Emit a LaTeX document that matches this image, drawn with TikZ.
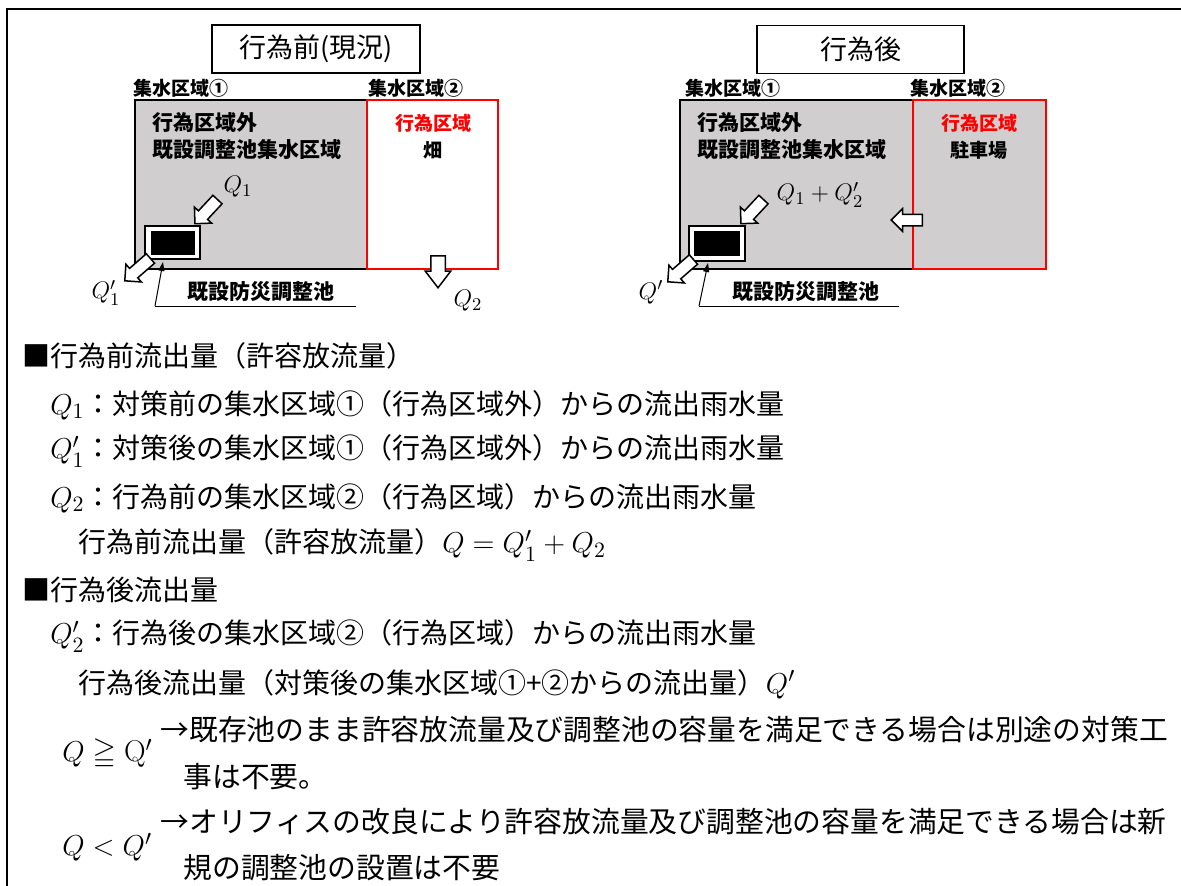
\documentclass[tikz,border=0pt]{standalone}
\usepackage{fontspec}
\usepackage{amssymb}
\usetikzlibrary{shapes.arrows,arrows.meta}
\newfontfamily\jp{Noto Sans CJK JP}
\definecolor{areagray}{RGB}{208,206,206}
\definecolor{areared}{RGB}{255,0,0}
\newcommand\bq[1]{{\fontsize{15}{16}\selectfont$#1$}}
\begin{document}
\begin{tikzpicture}[x=0.5pt,y=-0.5pt,
  lbl/.style={font=\jp\bfseries\fontsize{9.5}{10}\selectfont, inner sep=0pt},
  lblb/.style={font=\jp\bfseries\fontsize{10.5}{11}\selectfont, inner sep=0pt},
  redlbl/.style={lbl, text=areared},
  qlbl/.style={font=\fontsize{13}{14}\selectfont, inner sep=0pt},
  body/.style={anchor=west, inner sep=0pt, font=\jp\fontsize{14}{16}\selectfont},
  bodyw/.style={anchor=west, inner sep=0pt, font=\jp\fontsize{14.4}{16}\selectfont},
  titlebox/.style={draw, line width=0.75pt, fill=white, inner sep=0pt, minimum height=24pt, font=\jp\fontsize{13.5}{14}\selectfont},
  area/.style={draw, line width=1pt, fill=areagray, inner sep=0pt},
  redarea/.style={draw=areared, line width=1pt, inner sep=0pt},
  pondout/.style={draw, line width=0.75pt, fill=white, inner sep=0pt},
  pondin/.style={fill=black, inner sep=0pt},
  barrow/.style={single arrow, draw, fill=white, line width=0.75pt, inner xsep=0pt, inner ysep=2.75pt, anchor=tail,
     minimum width=11pt, single arrow head extend=2.75pt, single arrow tip angle=90},
  callout/.style={line width=0.5pt},
  calltip/.style={line width=0.5pt, -{Triangle[length=4.5pt,width=3pt]}},
  frameline/.style={line width=1.2pt}
]
\useasboundingbox (0,0) rectangle (1181,885);
\fill[white] (0,0) rectangle (1181,885);
\draw[frameline] (7,886) -- (7,9) -- (1182,9);

% ---------------- left diagram (before)
\node[titlebox, minimum width=104pt] (titleL) at (316,49) {行為前(現況)};
\node[lbl, anchor=west] (c1L) at (133,88) {集水区域①};
\node[lbl, anchor=west] (c2L) at (368,88) {集水区域②};
\node[area, minimum width=116pt, minimum height=84.5pt] (grayL) at (251,184.5) {};
\node[redarea, fill=white, minimum width=65.5pt, minimum height=84.5pt] (redL) at (432.5,184.5) {};
\node[lblb, anchor=west] (outL) at (152,123) {行為区域外};
\node[lblb, anchor=west] (catL) at (152,150) {既設調整池集水区域};
\node[redlbl] (actL) at (433,123) {行為区域};
\node[lbl] (fieldL) at (433,150) {畑};
\node[pondout, minimum width=27.5pt, minimum height=16.5pt] (pondL) at (172.5,242.5) {};
\node[pondin, minimum width=22pt, minimum height=12pt] (pondLi) at (173,243) {};
\node[barrow, minimum height=16.5pt, rotate=227] (inL) at (218,199) {};
\node[barrow, minimum height=17pt, rotate=221] (outflowL) at (151,258) {};
\node[barrow, minimum height=16pt, minimum width=12pt, inner ysep=3.25pt, single arrow head extend=2.75pt, single arrow tip angle=75, rotate=-90] (q2arrow) at (438,255) {};
\node[qlbl] (q1L) at (238,187) {$Q_1$};
\node[qlbl] (q1pL) at (106,293) {$Q_1'$};
\node[qlbl] (q2L) at (468,301) {$Q_2$};
\node[lblb] (pondlblL) at (261,292) {既設防災調整池};
\coordinate (footL) at (155,306);
\coordinate (endL) at (356,306);
\coordinate (tipL) at (163,262);
\draw[callout] (footL) -- (endL);
\draw[calltip] (footL) -- (tipL);

% ---------------- right diagram (after)
\node[titlebox, minimum width=103.5pt] (titleR) at (860.5,49.5) {行為後};
\node[lbl, anchor=west] (c1R) at (685,88) {集水区域①};
\node[lbl, anchor=west] (c2R) at (910,88) {集水区域②};
\node[area, minimum width=116.5pt, minimum height=84.5pt] (grayR) at (796.5,184.5) {};
\node[redarea, fill=areagray, minimum width=66.5pt, minimum height=84.5pt] (redR) at (979.5,184.5) {};
\node[lblb, anchor=west] (outR) at (697,123) {行為区域外};
\node[lblb, anchor=west] (catR) at (697,150) {既設調整池集水区域};
\node[redlbl] (actR) at (979,123) {行為区域};
\node[lbl] (parkR) at (979,150) {駐車場};
\node[pondout, minimum width=28pt, minimum height=17.5pt] (pondR) at (717,243.5) {};
\node[pondin, minimum width=23pt, minimum height=12.5pt] (pondRi) at (717,243.5) {};
\node[barrow, minimum height=16.5pt, rotate=227] (inR) at (764,199) {};
\node[barrow, minimum height=17pt, rotate=221] (outflowR) at (694,259) {};
\node[barrow, minimum height=15.5pt, minimum width=10.5pt, inner ysep=2.5pt, single arrow head extend=2.75pt, rotate=180] (sideR) at (923,220) {};
\node[qlbl] (qsumR) at (820,195) {$Q_1+Q_2'$};
\node[qlbl] (qpR) at (651,292) {$Q'$};
\node[lblb] (pondlblR) at (806,292) {既設防災調整池};
\coordinate (footR) at (699,306);
\coordinate (endR) at (899,306);
\coordinate (tipR) at (708,263);
\draw[callout] (footR) -- (endR);
\draw[calltip] (footR) -- (tipR);

% ---------------- explanation text
\node[body] (t1) at (22,356) {■行為前流出量（許容放流量）};
\node[body] (t2) at (50,405) {\bq{Q_1}：対策前の集水区域①（行為区域外）からの流出雨水量};
\node[body] (t3) at (50,451) {\bq{Q_1'}：対策後の集水区域①（行為区域外）からの流出雨水量};
\node[body] (t4) at (50,498) {\bq{Q_2}：行為前の集水区域②（行為区域）からの流出雨水量};
\node[body] (t5) at (78,545) {行為前流出量（許容放流量）\bq{Q=Q_1'+Q_2}};
\node[body] (t6) at (22,590) {■行為後流出量};
\node[body] (t7) at (50,636) {\bq{Q_2'}：行為後の集水区域②（行為区域）からの流出雨水量};
\node[body] (t8) at (78,684) {行為後流出量（対策後の集水区域①+②からの流出量）\bq{Q'}};
\node[bodyw] (t9) at (160,730) {→既存池のまま許容放流量及び調整池の容量を満足できる場合は別途の対策工};
\node[body] (c1) at (62,754) {\bq{Q\geqq\mathrm{Q}'}};
\node[bodyw] (t10) at (183,777) {事は不要。};
\node[bodyw] (t11) at (160,822) {→オリフィスの改良により許容放流量及び調整池の容量を満足できる場合は新};
\node[body] (c2) at (62,847) {\bq{Q<Q'}};
\node[bodyw] (t12) at (183,868) {規の調整池の設置は不要};
\end{tikzpicture}
\end{document}
